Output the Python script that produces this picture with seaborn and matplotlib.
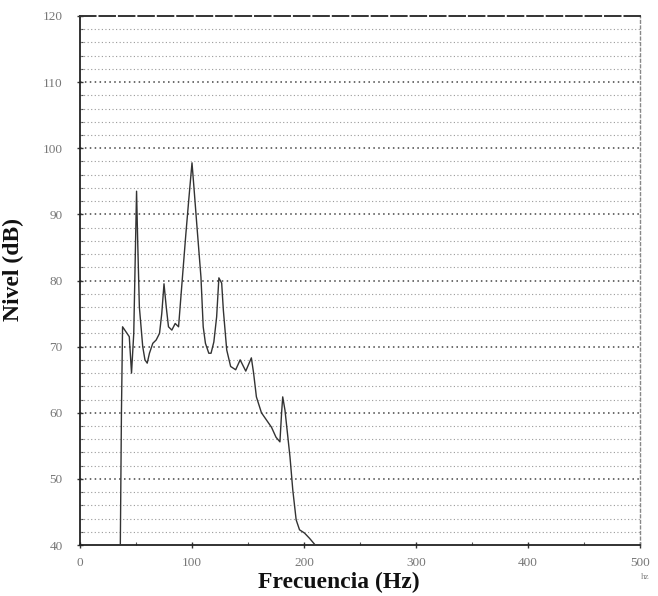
import matplotlib
matplotlib.use("Agg")
import matplotlib.pyplot as plt
import seaborn as sns
import pandas as pd
from matplotlib.ticker import MultipleLocator

# ---- data ----
freq_hz = [36, 37, 38, 40, 42, 44, 46, 48, 49.5, 50.5, 51.5, 53, 56, 58, 60, 62, 65, 68,
           71, 73, 75, 77, 79, 82, 85, 88, 91, 94.5, 97, 100, 102, 104.5, 108, 110,
           112, 115, 117, 119.5, 122, 124, 126.5, 128, 131, 134.5, 139, 143, 148,
           153, 155, 157.5, 162, 166.5, 171, 175, 178.5, 180, 181, 183, 187.5, 190,
           193, 196, 200.5, 205, 210]
level_db = [40, 60, 73, 72.5, 72, 71.5, 66, 72, 85, 93.5, 86, 76, 70, 68, 67.5, 69, 70.5, 71,
            72, 75, 79.5, 76, 73, 72.5, 73.5, 73, 79.5, 87, 92, 97.8, 93.5, 88, 80.5, 73,
            70.5, 69, 69, 70.7, 74.5, 80.4, 79.6, 75.5, 69.5, 67, 66.5, 68, 66.3,
            68.3, 66, 62.4, 60, 58.9, 57.8, 56.3, 55.6, 60, 62.4, 60.4, 53.3, 48.3,
            43.8, 42.3, 41.8, 41, 40]
x_ticks = [0, 100, 200, 300, 400, 500]
y_ticks = [40, 50, 60, 70, 80, 90, 100, 110, 120]

df = pd.DataFrame({"Frecuencia": freq_hz, "Nivel": level_db})

sns.set_style("white")
plt.rcParams["font.family"] = ["Liberation Serif", "DejaVu Serif"]

fig = plt.figure(figsize=(6.58, 5.96), dpi=100)
ax = fig.add_axes([80 / 658, 1 - 545 / 596, 560 / 658, 529 / 596])

# horizontal dotted grid every 2 dB, darker every 10 dB
for yv in range(42, 120, 2):
    major = (yv % 10 == 0)
    ax.axhline(yv, color="#444444" if major else "#9a9a9a",
               linestyle=(0, (1, 2.2)), lw=1.1 if major else 0.8, zorder=1)

sns.lineplot(data=df, x="Frecuencia", y="Nivel", ax=ax, color="#333333",
             lw=1.0, zorder=3, estimator=None, sort=False)

ax.set_xlim(0, 500)
ax.set_ylim(40, 120)
ax.set_xticks(x_ticks)
ax.set_yticks(y_ticks)
ax.xaxis.set_minor_locator(MultipleLocator(50))
ax.yaxis.set_minor_locator(MultipleLocator(2))
ax.tick_params(axis="both", which="major", direction="inout", length=5, width=1,
               color="#333333", labelsize=9.5, labelcolor="#777777")
ax.tick_params(axis="y", which="major", pad=10)
ax.tick_params(axis="x", which="major", pad=6)
ax.tick_params(axis="both", which="minor", direction="in", length=2.5, width=0.8,
               color="#555555")
ax.tick_params(bottom=True, left=True, which="both")

for s in ["left", "bottom"]:
    ax.spines[s].set_color("#222222")
    ax.spines[s].set_linewidth(1.3)
ax.spines["top"].set_color("#333333")
ax.spines["top"].set_linewidth(1.4)
ax.spines["top"].set_linestyle((0, (8, 2)))
ax.spines["right"].set_color("#888888")
ax.spines["right"].set_linewidth(1.0)
ax.spines["right"].set_linestyle((0, (2, 2)))

ax.set_xlabel("")
ax.set_ylabel("Nivel (dB)", fontsize=17, fontweight="bold", color="#111111")
ax.yaxis.set_label_coords(-0.10, 0.52)
fig.text(339 / 658, 1 - 582 / 596, "Frecuencia (Hz)", fontsize=17,
         fontweight="bold", color="#111111", ha="center", va="center")

fig.text(645 / 658, 1 - 577 / 596, "hz", fontsize=6.5, color="#888888",
         ha="center", va="center")

fig.savefig("out.png", dpi=100)
